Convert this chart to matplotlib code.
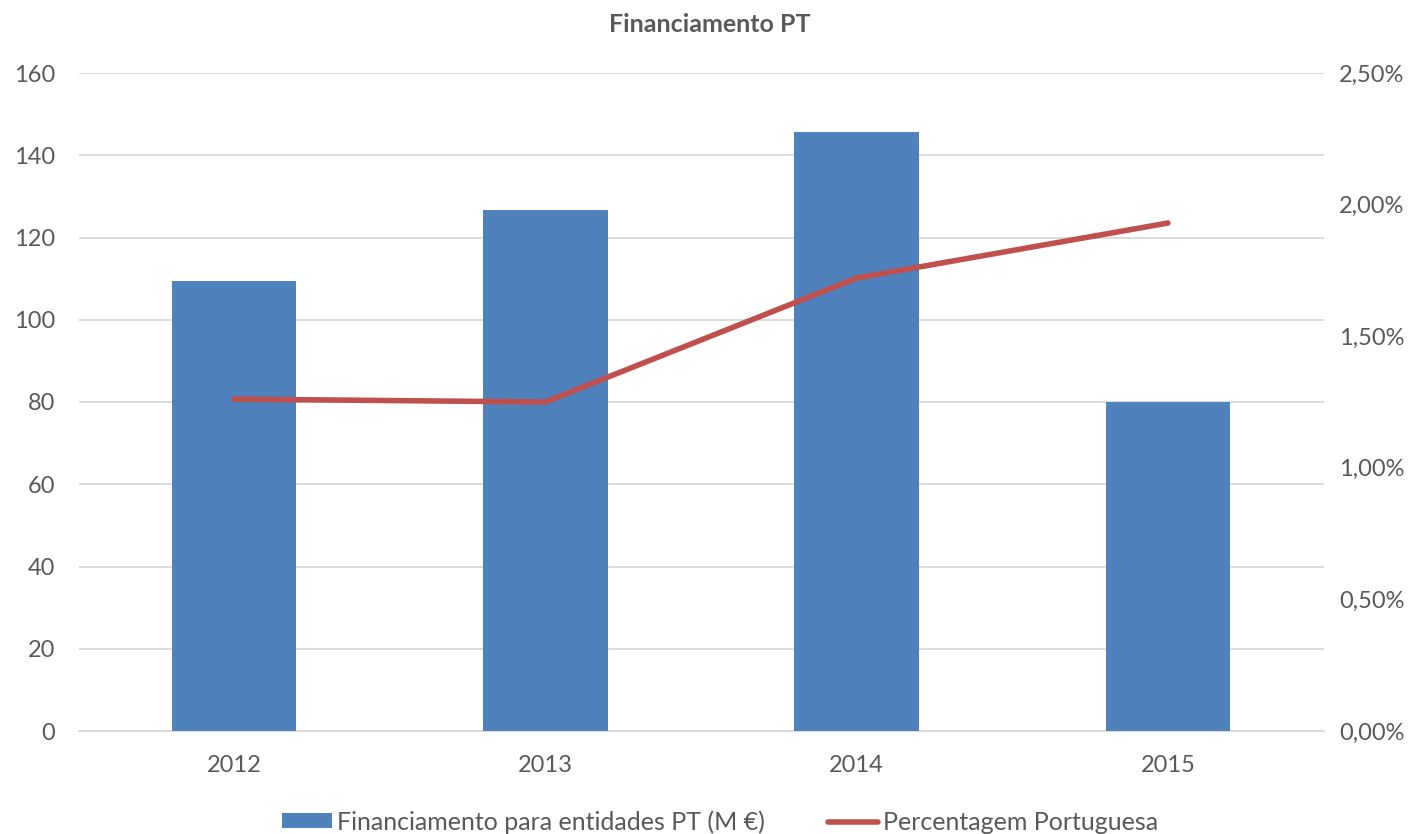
import matplotlib
matplotlib.use("Agg")
import matplotlib.pyplot as plt
from matplotlib.ticker import FuncFormatter
import numpy as np

years = ["2012", "2013", "2014", "2015"]
funding = [109.4, 126.7, 145.7, 80.0]
pct = [1.261, 1.250, 1.721, 1.930]

bar_label = "Financiamento para entidades PT (M €)"
line_label = "Percentagem Portuguesa"
title = "Financiamento PT"

plt.rcParams['font.family'] = ['Lato', 'DejaVu Sans']
txt = "#595959"

fig = plt.figure(figsize=(14.2, 8.34), dpi=100)
ax = fig.add_axes([78.5/1420, 103/834, 1245/1420, 658/834])
x = np.arange(len(years))
b = ax.bar(x, funding, width=0.40, color="#4F81BD", zorder=3, label=bar_label)
ax.set_xlim(-0.5, len(years) - 0.5)
ax.set_ylim(0, 160)
ax.set_yticks(np.arange(0, 161, 20))
ax.yaxis.grid(True, color="#D9D9D9", linewidth=1.3, zorder=0)
ax.set_axisbelow(True)
for s in ["top", "right", "left"]:
    ax.spines[s].set_visible(False)
ax.spines["bottom"].set_color("#D9D9D9")
ax.spines["bottom"].set_linewidth(1.3)
ax.set_xticks(x)
ax.set_xticklabels(years)
ax.tick_params(axis="both", length=0, labelsize=17, colors=txt)
ax.tick_params(axis="x", pad=17)
ax.tick_params(axis="y", pad=17)

ax2 = ax.twinx()
l, = ax2.plot(x, pct, color="#C0504D", linewidth=4, solid_capstyle="round", zorder=4, label=line_label)
ax2.set_ylim(0, 2.5)
ax2.set_yticks(np.arange(0, 2.51, 0.5))
ax2.yaxis.set_major_formatter(FuncFormatter(lambda v, p: f"{v:.2f}%".replace(".", ",")))
for s in ["top", "right", "left", "bottom"]:
    ax2.spines[s].set_visible(False)
ax2.tick_params(axis="y", length=0, labelsize=17, colors=txt, pad=11)

fig.text(0.5, 1 - 24/834, title, ha="center", va="center", fontsize=18, fontweight="bold", color=txt)

fig.legend([b, l], [bar_label, line_label], loc="center", bbox_to_anchor=(0.507, 1 - 822/834),
           ncol=2, frameon=False, fontsize=18, labelcolor=txt, handlelength=2.0, handleheight=0.55,
           handletextpad=0.2, columnspacing=2.5, borderpad=0.1)

fig.savefig("out.png", dpi=100)
